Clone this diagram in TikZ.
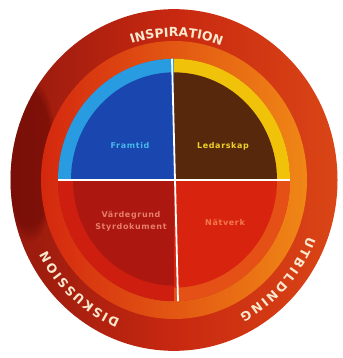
\documentclass[tikz,border=0pt]{standalone}
\usepackage{fontspec}
\newfontfamily\ringfont{DejaVu Sans}
\newfontfamily\labfont[LetterSpace=8]{DejaVu Sans}
\usetikzlibrary{decorations.text,fadings}
\definecolor{ringred}{RGB}{200,40,16}
\definecolor{ringdark}{RGB}{150,26,14}
\definecolor{ringorange}{RGB}{218,70,22}
\definecolor{bandorange}{RGB}{240,135,22}
\definecolor{bandred}{RGB}{212,40,15}
\definecolor{lblue}{RGB}{40,155,225}
\definecolor{dblue}{RGB}{25,70,175}
\definecolor{qyel}{RGB}{240,195,10}
\definecolor{qbrown}{RGB}{88,40,12}
\definecolor{blred}{RGB}{205,30,15}
\definecolor{blinner}{RGB}{172,24,16}
\definecolor{brband}{RGB}{228,80,22}
\definecolor{brinner}{RGB}{216,36,14}
\definecolor{ringtext}{RGB}{248,232,205}
\definecolor{framtidtxt}{RGB}{70,185,235}
\definecolor{ledartxt}{RGB}{238,210,40}
\definecolor{vardetxt}{RGB}{232,125,105}
\definecolor{natvtxt}{RGB}{242,120,75}
\tikzset{
  ringlabel/.style={decorate, decoration={text along path, text align={fit to path},
    text={|\ringfont\bfseries\fontsize{12.5}{13}\selectfont\color{ringtext}|#1}}},
  quadlabel/.style={font=\labfont\bfseries\fontsize{8}{9}\selectfont, inner sep=0pt},
  crossline/.style={white, line width=1.8pt}
}
\begin{document}
\begin{tikzpicture}[x=1pt,y=1pt]
\useasboundingbox (0,0) rectangle (342,358);
\fill[white] (0,0) rectangle (342,358);
\begin{scope}[shift={(174,178)},yscale=1.045]
  % outer disk
  \shade[left color=ringdark, right color=ringorange, middle color=ringred] (0,0) circle[radius=163.5];
  \begin{scope}
    \clip (0,0) circle[radius=163.5];
    \fill[black!70!red, opacity=.4, path fading=circle with fuzzy edge 20 percent] (-145,20) ellipse[x radius=28, y radius=80];
  \end{scope}
  % orange ring
  \shade[even odd rule, left color=bandred, right color=bandorange] (0,0) circle[radius=133] (0,0) circle[radius=116];
  % top-left quadrant
  \fill[lblue] (0,0) -- (180:116) arc[start angle=180, end angle=90, radius=116] -- cycle;
  \fill[dblue] (0,0) -- (180:103) arc[start angle=180, end angle=90, radius=103] -- cycle;
  % top-right quadrant
  \fill[qyel] (0,0) -- (90:116) arc[start angle=90, end angle=0, radius=116] -- cycle;
  \fill[qbrown] (0,0) -- (90:103) arc[start angle=90, end angle=0, radius=103] -- cycle;
  % bottom-left quadrant
  \fill[blred] (0,0) -- (270:116) arc[start angle=270, end angle=180, radius=116] -- cycle;
  \fill[blinner] (0,0) -- (270:101) arc[start angle=270, end angle=180, radius=101] -- cycle;
  % bottom-right quadrant
  \fill[brband] (0,0) -- (360:116) arc[start angle=360, end angle=270, radius=116] -- cycle;
  \fill[brinner] (0,0) -- (360:103) arc[start angle=360, end angle=270, radius=103] -- cycle;
  % cross
  \coordinate (L) at (-116,0);
  \coordinate (R) at (116,0);
  \coordinate (T) at (-2,116);
  \coordinate (B) at (4,-116);
  \draw[crossline] (L) -- (R);
  \draw[crossline] (T) -- (B);
  % ring texts
  \path[ringlabel=INSPIRATION] (108:137) arc[start angle=108, end angle=70, radius=137];
  \path[ringlabel=UTBILDNING] (-22:144) arc[start angle=-22, end angle=-63, radius=144];
  \path[ringlabel=DISKUSSION] (-112:144) arc[start angle=-112, end angle=-152, radius=144];
\end{scope}
\node[quadlabel, text=framtidtxt] (framtid) at (130,212) {Framtid};
\node[quadlabel, text=ledartxt] (ledarskap) at (223,212) {Ledarskap};
\node[quadlabel, text=vardetxt, align=center] (varde) at (131,137) {Värdegrund\\[3pt]Styrdokument};
\node[quadlabel, text=natvtxt] (natverk) at (225,136) {Nätverk};
\end{tikzpicture}
\end{document}
